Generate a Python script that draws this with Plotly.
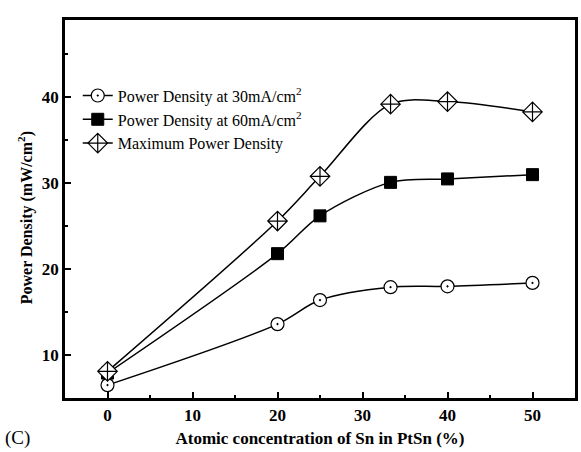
import plotly.graph_objects as go

# Sn content in the PtSn catalyst (%)
sn_content = [0, 20, 25, 33.3, 40, 50]

# Power density (mW/cm2)
pd_30 = [6.5, 13.6, 16.4, 17.9, 18.0, 18.4]
pd_60 = [7.9, 21.8, 26.2, 30.1, 30.5, 31.0]
pd_max = [8.1, 25.6, 30.8, 39.2, 39.5, 38.3]

x_ticks = [0, 10, 20, 30, 40, 50]
y_ticks = [10, 20, 30, 40]

FONT = "Liberation Serif"

fig = go.Figure()

series = [
    ("Power Density at 30mA/cm<sup>2</sup>", pd_30,
     dict(symbol="circle-dot", size=13, color="white",
          line=dict(color="black", width=1.2))),
    ("Power Density at 60mA/cm<sup>2</sup>", pd_60,
     dict(symbol="square", size=12, color="black",
          line=dict(color="black", width=1))),
    ("Maximum Power Density", pd_max,
     dict(symbol="diamond-cross", size=15, color="white",
          line=dict(color="black", width=1.2))),
]

for name, ys, marker in series:
    fig.add_trace(go.Scatter(
        x=sn_content, y=ys, name=name,
        mode="lines+markers",
        line=dict(color="black", width=1.5, shape="spline", smoothing=0.9),
        marker=marker,
    ))

axis_common = dict(
    showline=True, linecolor="black", linewidth=2.5, mirror=True,
    ticks="inside", ticklen=6, tickwidth=2, tickcolor="black",
    showgrid=False, zeroline=False,
    tickfont=dict(family=FONT, size=17, color="black"),
)

fig.update_xaxes(
    range=[-5, 55], tickvals=x_ticks,
    ticktext=[f"<b>{v}</b>" for v in x_ticks],
    minor=dict(ticks="inside", ticklen=3, tickwidth=2, tickcolor="black", dtick=5, tick0=0),
    title=dict(text="<b>Atomic concentration of Sn in PtSn (%)</b>",
               font=dict(family=FONT, size=17, color="black"), standoff=8),
    **axis_common,
)
fig.update_yaxes(
    range=[5, 49], tickvals=y_ticks,
    ticktext=[f"<b>{v}</b>" for v in y_ticks],
    minor=dict(ticks="inside", ticklen=3, tickwidth=2, tickcolor="black", dtick=5, tick0=0),
    **axis_common,
)

# Y-axis title placed as a rotated annotation
fig.add_annotation(
    text="<b>Power Density (mW/cm<sup>2</sup>)</b>",
    xref="paper", yref="paper", x=-0.078, y=0.476,
    xanchor="center", yanchor="middle", textangle=-90, showarrow=False,
    font=dict(family=FONT, size=16, color="black"),
)

fig.add_annotation(
    text="(C)", xref="paper", yref="paper", x=-0.122, y=-0.107,
    xanchor="left", yanchor="middle", showarrow=False,
    font=dict(family=FONT, size=19, color="black"),
)

fig.update_layout(
    width=581, height=452,
    margin=dict(l=65, r=3, t=20, b=54),
    paper_bgcolor="white", plot_bgcolor="white",
    showlegend=True,
    legend=dict(
        x=0.025, y=0.845, xanchor="left", yanchor="top",
        bgcolor="rgba(0,0,0,0)", borderwidth=0,
        font=dict(family=FONT, size=16, color="black"),
        itemwidth=30, tracegroupgap=0,
    ),
)

fig.write_html("out.html")
